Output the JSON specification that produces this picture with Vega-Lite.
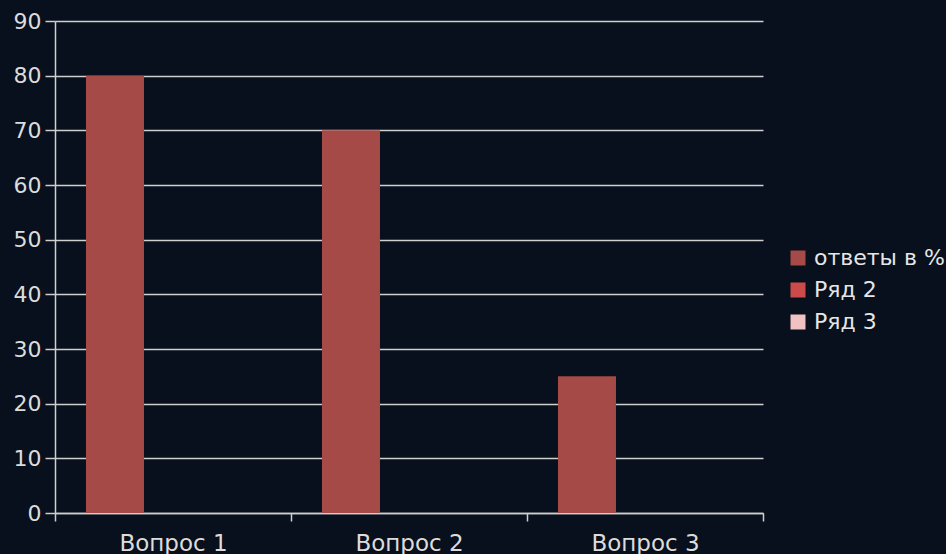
{
  "$schema": "https://vega.github.io/schema/vega-lite/v6.json",
  "width": 708,
  "height": 492,
  "autosize": {"type": "none"},
  "padding": {"left": 55, "top": 21, "right": 183, "bottom": 41},
  "background": "#07101c",
  "config": {
    "view": {"stroke": null},
    "font": "DejaVu Sans"
  },
  "data": {
    "values": [
      {"q": "Вопрос 1", "series": "ответы в %", "value": 80},
      {"q": "Вопрос 2", "series": "ответы в %", "value": 70},
      {"q": "Вопрос 3", "series": "ответы в %", "value": 25},
      {"q": "Вопрос 1", "series": "Ряд 2", "value": null},
      {"q": "Вопрос 2", "series": "Ряд 2", "value": null},
      {"q": "Вопрос 3", "series": "Ряд 2", "value": null},
      {"q": "Вопрос 1", "series": "Ряд 3", "value": null},
      {"q": "Вопрос 2", "series": "Ряд 3", "value": null},
      {"q": "Вопрос 3", "series": "Ряд 3", "value": null}
    ]
  },
  "mark": {"type": "bar"},
  "encoding": {
    "x": {
      "field": "q",
      "type": "nominal",
      "sort": null,
      "scale": {"paddingInner": 0, "paddingOuter": 0},
      "axis": {
        "title": null,
        "labelAngle": 0,
        "labelFontSize": 23,
        "labelColor": "#dcdcdc",
        "labelPadding": 11,
        "tickBand": "extent",
        "tickSize": 8,
        "tickColor": "#cfcfcf",
        "domainColor": "#cfcfcf",
        "domainWidth": 1.5,
        "tickWidth": 1.5
      }
    },
    "xOffset": {
      "field": "series",
      "type": "nominal",
      "scale": {"domain": ["ответы в %", "Ряд 2", "Ряд 3"], "paddingInner": 0, "paddingOuter": 0.534}
    },
    "y": {
      "field": "value",
      "type": "quantitative",
      "scale": {"domain": [0, 90]},
      "axis": {
        "title": null,
        "values": [0, 10, 20, 30, 40, 50, 60, 70, 80, 90],
        "labelFontSize": 22,
        "labelColor": "#dcdcdc",
        "labelPadding": 4,
        "tickSize": 10,
        "tickColor": "#cfcfcf",
        "tickWidth": 1.5,
        "domainColor": "#cfcfcf",
        "domainWidth": 1.5,
        "grid": true,
        "gridColor": "#cfcfcf",
        "gridWidth": 1.5
      }
    },
    "color": {
      "field": "series",
      "type": "nominal",
      "scale": {
        "domain": ["ответы в %", "Ряд 2", "Ряд 3"],
        "range": ["#a54a46", "#cc4a4a", "#f0c2c2"]
      },
      "legend": {
        "title": null,
        "orient": "none",
        "legendX": 732,
        "legendY": 226,
        "symbolType": "square",
        "symbolSize": 225,
        "symbolOpacity": 1,
        "symbolStrokeWidth": 0,
        "labelFontSize": 22,
        "labelColor": "#e6e6e6",
        "labelOffset": 5,
        "rowPadding": 10
      }
    }
  }
}
